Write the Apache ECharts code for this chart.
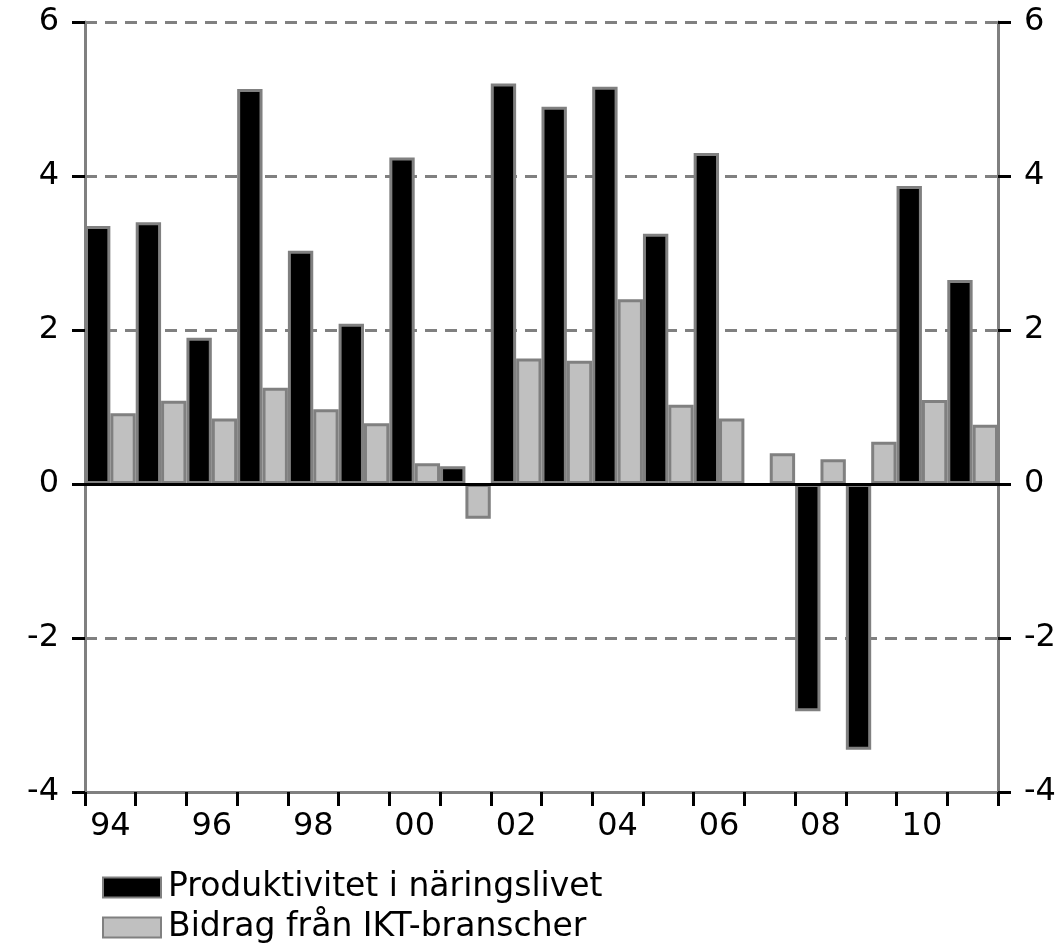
<!DOCTYPE html>
<html><head><meta charset="utf-8">
<script src="https://cdn.jsdelivr.net/npm/echarts@6/dist/echarts.min.js"></script>
<style>html,body{margin:0;padding:0;background:#fff}#c{width:1064px;height:945px}</style>
</head><body><div id="c"></div>
<script>
var years = ['94','95','96','97','98','99','00','01','02','03','04','05','06','07','08','09','10','11'];
var produktivitet = [3.35,3.40,1.90,5.13,3.03,2.08,4.24,0.23,5.20,4.90,5.16,3.25,4.30,null,-2.95,-3.45,3.87,2.65];
var bidrag = [0.92,1.08,0.85,1.25,0.97,0.79,0.27,-0.45,1.63,1.60,2.40,1.03,0.85,0.40,0.32,0.55,1.09,0.77];
var seriesNames = ['Produktivitet i näringslivet','Bidrag från IKT-branscher'];
var yTicks = {min:-4, max:6, interval:2};

var font = 'DejaVu Sans';
function yAxis(pos){
  return {
    type:'value', position:pos, min:yTicks.min, max:yTicks.max, interval:yTicks.interval,
    axisLine:{show:true, lineStyle:{color:'#808080', width:3}},
    axisTick:{show:true, inside:false, length:13, lineStyle:{color:'#000', width:3}},
    axisLabel:{color:'#000', fontFamily:font, fontSize:32, margin:26},
    splitLine:{show:pos==='left', lineStyle:{color:'#808080', width:3, type:[12,8]}}
  };
}
function legend(i, top){
  return {
    orient:'vertical', left:97, top:top, itemWidth:58, itemHeight:20, icon:'rect',
    textStyle:{color:'#000', fontFamily:font, fontSize:33, padding:[0,0,0,2]},
    data:[seriesNames[i]]
  };
}
var chart = echarts.init(document.getElementById('c'), null, {renderer:'canvas'});
chart.setOption({
  animation:false,
  grid:{left:85, right:66, top:22, bottom:153, containLabel:false},
  legend:[legend(0, 866), legend(1, 906)],
  xAxis:{
    type:'category', data:years,
    axisLine:{show:true, onZero:false, lineStyle:{color:'#808080', width:3}},
    axisTick:{show:true, interval:0, length:14, lineStyle:{color:'#000', width:3}},
    axisLabel:{interval:1, color:'#000', fontFamily:font, fontSize:32, margin:19},
    splitLine:{show:false}
  },
  yAxis:[yAxis('left'), yAxis('right')],
  series:[
    {name:seriesNames[0], type:'bar', data:produktivitet, barGap:'0%', barCategoryGap:'0%',
     itemStyle:{color:'#000', borderColor:'#808080', borderWidth:3},
     markLine:{silent:true, symbol:'none', label:{show:false},
       lineStyle:{color:'#000', width:3, type:'solid'}, data:[{yAxis:0}], z:10}},
    {name:seriesNames[1], type:'bar', data:bidrag, barGap:'0%', barCategoryGap:'0%',
     itemStyle:{color:'#c0c0c0', borderColor:'#808080', borderWidth:3}}
  ]
});
</script></body></html>
